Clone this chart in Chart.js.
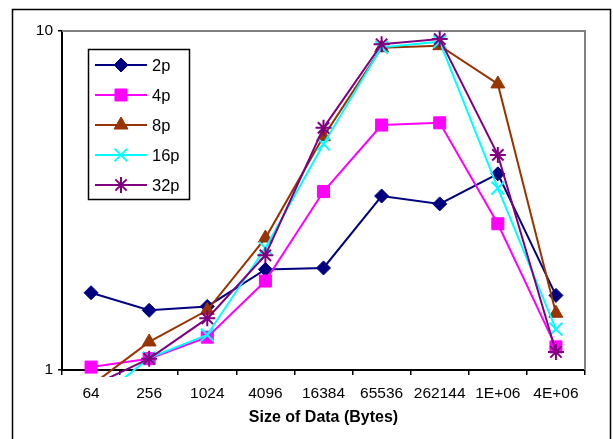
<!DOCTYPE html>
<html>
<head>
<meta charset="utf-8">
<script src="https://cdn.jsdelivr.net/npm/chart.js@4/dist/chart.umd.min.js"></script>
<style>
  body { margin: 0; background: #fff; }
  #wrap { width: 613px; height: 439px; }
</style>
</head>
<body>
<div id="wrap"><canvas id="myChart"></canvas></div>
<script>
// data
var sizes = ['64', '256', '1024', '4096', '16384', '65536', '262144', '1E+06', '4E+06'];
var p2  = [1.69, 1.50, 1.54, 1.98, 2.00, 3.26, 3.09, 3.79, 1.66];
var p4  = [1.02, 1.08, 1.25, 1.83, 3.36, 5.28, 5.36, 2.70, 1.17];
var p8  = [0.90, 1.21, 1.50, 2.45, 4.88, 8.93, 9.05, 6.98, 1.47];
var p16 = [0.79, 1.085, 1.27, 2.29, 4.64, 8.95, 9.30, 3.44, 1.32];
var p32 = [0.895, 1.08, 1.42, 2.18, 5.18, 9.14, 9.47, 4.31, 1.13];
var seriesNames = ['2p', '4p', '8p', '16p', '32p'];
var yTicks = [1, 10];

var FONT = '"Liberation Sans", Arial, sans-serif';

function makeSet(name, vals, col, style, rad, bw, idx) {
    return {
        label: name,
        data: vals,
        borderColor: col,
        backgroundColor: col,
        borderWidth: 2,
        pointStyle: style,
        pointRadius: rad,
        pointHoverRadius: rad,
        pointBorderWidth: bw,
        pointBackgroundColor: col,
        pointBorderColor: col,
        tension: 0,
        order: 4 - idx, // later series on top, like excel
        clip: { left: 10, top: 10, right: 10, bottom: 7 }
    };
}

var sets = [
    makeSet(seriesNames[0], p2, '#000080', 'rectRot', 7, 1, 0),
    makeSet(seriesNames[1], p4, '#FF00FF', 'rect', 8.5, 1, 1),
    makeSet(seriesNames[2], p8, '#993300', 'triangle', 8, 1, 2),
    makeSet(seriesNames[3], p16, '#00FFFF', 'crossRot', 9, 2, 3),
    makeSet(seriesNames[4], p32, '#800080', 'star', 8, 2, 4)
];

// white background + outer frame + grey plot border
var frame = {
    id: 'frame',
    beforeDraw: function (chart) {
        var c = chart.ctx;
        c.save();
        c.fillStyle = '#fff';
        c.fillRect(0, 0, chart.width, chart.height);
        c.strokeStyle = '#000';
        c.lineWidth = 1.5;
        c.strokeRect(12.5, 9.5, 598, 440);
        c.restore();
    },
    beforeDatasetsDraw: function (chart) {
        var a = chart.chartArea;
        var c = chart.ctx;
        c.save();
        c.strokeStyle = '#808080';
        c.lineWidth = 2;
        c.beginPath();
        c.moveTo(a.left, a.top);
        c.lineTo(a.right, a.top);
        c.lineTo(a.right, a.bottom);
        c.stroke();
        c.restore();
    }
};

// legend box inside the plot, top left
var boxLegend = {
    id: 'boxLegend',
    afterDraw: function (chart) {
        var c = chart.ctx;
        c.save();
        c.fillStyle = '#fff';
        c.fillRect(88.5, 49.5, 101, 150);
        c.strokeStyle = '#000';
        c.lineWidth = 1.5;
        c.strokeRect(88.5, 49.5, 101, 150);
        chart.data.datasets.forEach(function (ds, i) {
            var y = 65 + i * 30;
            c.strokeStyle = ds.borderColor;
            c.fillStyle = ds.borderColor;
            c.lineWidth = 2;
            c.beginPath();
            c.moveTo(95, y);
            c.lineTo(147, y);
            c.stroke();
            c.lineWidth = ds.pointBorderWidth;
            Chart.helpers.drawPoint(c, {
                pointStyle: ds.pointStyle,
                radius: ds.pointRadius,
                rotation: 0,
                borderWidth: ds.pointBorderWidth
            }, 121, y);
            c.fillStyle = '#000';
            c.font = '16.5px ' + FONT;
            c.textBaseline = 'middle';
            c.textAlign = 'left';
            c.fillText(ds.label, 152, y + 1);
        });
        c.restore();
    }
};

var ctx = document.getElementById('myChart');
var chart = new Chart(ctx, {
    type: 'line',
    data: { labels: sizes, datasets: sets },
    plugins: [frame, boxLegend],
    options: {
        responsive: true,
        maintainAspectRatio: false,
        animation: false,
        layout: { padding: { top: 31, right: 28, left: 0, bottom: 0 } },
        plugins: {
            legend: { display: false },
            tooltip: { enabled: false }
        },
        scales: {
            x: {
                type: 'category',
                offset: true,
                grid: {
                    offset: true,
                    drawOnChartArea: false,
                    tickLength: 5,
                    color: '#000',
                    lineWidth: 1.5
                },
                border: { color: '#000', width: 2 },
                ticks: {
                    color: '#000',
                    font: { family: FONT, size: 15.5 },
                    padding: 9,
                    maxRotation: 0,
                    autoSkip: false
                },
                title: {
                    display: true,
                    text: 'Size of Data (Bytes)',
                    color: '#000',
                    font: { family: FONT, size: 16, weight: 'bold' },
                    padding: { top: 0, bottom: 12 }
                },
                afterFit: function (s) { s.height = 69; }
            },
            y: {
                type: 'logarithmic',
                min: 1,
                max: 10,
                afterBuildTicks: function (s) {
                    s.ticks = yTicks.map(function (v) { return { value: v }; });
                },
                grid: {
                    drawOnChartArea: false,
                    tickLength: 4,
                    color: '#000',
                    lineWidth: 1.5
                },
                border: { color: '#000', width: 2 },
                ticks: {
                    color: '#000',
                    font: { family: FONT, size: 15.5 },
                    padding: 5,
                    callback: function (v) { return String(v); }
                },
                afterFit: function (s) { s.width = 62; }
            }
        }
    }
});
</script>
</body>
</html>
